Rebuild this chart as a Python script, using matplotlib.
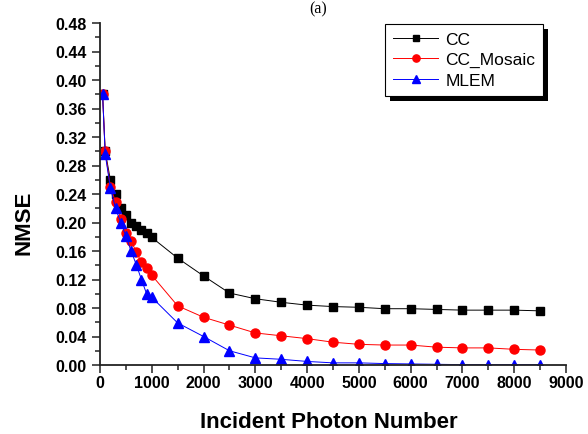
import matplotlib
matplotlib.use("Agg")
import matplotlib.pyplot as plt
from matplotlib.patches import Rectangle
from matplotlib.ticker import MultipleLocator

# incident photon numbers and NMSE for each reconstruction method
photons = [50, 100, 200, 300, 400, 500, 600, 700, 800, 900, 1000, 1500, 2000,
           2500, 3000, 3500, 4000, 4500, 5000, 5500, 6000, 6500, 7000, 7500,
           8000, 8500]
cc = [0.380, 0.300, 0.260, 0.240, 0.220, 0.210, 0.200, 0.195, 0.190, 0.185,
      0.179, 0.150, 0.125, 0.101, 0.093, 0.088, 0.084, 0.082, 0.081, 0.079,
      0.079, 0.078, 0.077, 0.077, 0.077, 0.076]
cc_mosaic = [0.380, 0.300, 0.250, 0.229, 0.205, 0.185, 0.174, 0.159, 0.144,
             0.136, 0.126, 0.083, 0.067, 0.056, 0.045, 0.041, 0.037, 0.032,
             0.029, 0.028, 0.028, 0.025, 0.024, 0.024, 0.022, 0.021]
mlem = [0.380, 0.296, 0.249, 0.220, 0.200, 0.181, 0.160, 0.141, 0.120, 0.100,
        0.095, 0.059, 0.040, 0.020, 0.010, 0.008, 0.005, 0.003, 0.003, 0.002,
        0.0015, 0.001, 0.0005, 0.0005, 0.0005, 0.0005]

plt.rcParams['font.family'] = ['Liberation Sans', 'DejaVu Sans']

fig = plt.figure(figsize=(5.88, 4.35), dpi=100)
ax = fig.add_axes([100 / 588, 69 / 435, 466 / 588, 342 / 435])

ax.plot(photons, cc, color='k', lw=0.7, marker='s', ms=5.5, label='CC')
ax.plot(photons, cc_mosaic, color='red', lw=0.7, marker='o', ms=6.5,
        label='CC_Mosaic')
ax.plot(photons, mlem, color='blue', lw=0.7, marker='^', ms=7, label='MLEM')

ax.set_xlim(0, 9000)
ax.set_ylim(0, 0.48)
ax.xaxis.set_major_locator(MultipleLocator(1000))
ax.xaxis.set_minor_locator(MultipleLocator(500))
ax.yaxis.set_major_locator(MultipleLocator(0.04))
ax.yaxis.set_minor_locator(MultipleLocator(0.02))
ax.yaxis.set_major_formatter(lambda v, p: f'{v:.2f}')

for side in ('top', 'right'):
    ax.spines[side].set_visible(False)
for side in ('left', 'bottom'):
    ax.spines[side].set_linewidth(1.3)
    ax.spines[side].set_color('#222222')

ax.tick_params(which='major', direction='out', length=5.5, width=1.1,
               color='#222222', labelsize=11.5)
ax.tick_params(which='minor', direction='out', length=3.5, width=1.1,
               color='#222222')
ax.tick_params(axis='x', pad=1.5)
ax.tick_params(axis='y', pad=4)
for lab in ax.get_xticklabels() + ax.get_yticklabels():
    lab.set_fontweight('bold')

ax.set_xlabel('Incident Photon Number', fontsize=16, fontweight='bold')
ax.set_ylabel('NMSE', fontsize=16, fontweight='bold')
ax.xaxis.set_label_coords(0.49, -0.135)
ax.yaxis.set_label_coords(-0.14, 0.42)

leg = ax.legend(loc='upper right', bbox_to_anchor=(0.951, 0.997),
                fontsize=12.5, fancybox=False, framealpha=1, edgecolor='k',
                handlelength=2.6, labelspacing=0.3, borderpad=0.45,
                handletextpad=0.4, borderaxespad=0, markerscale=0.8)
leg.get_frame().set_linewidth(0.8)

# solid black drop shadow behind the legend box
fig.canvas.draw()
bb = leg.get_window_extent().transformed(ax.transAxes.inverted())
dx = 5 / 466
dy = 5 / 342
ax.add_patch(Rectangle((bb.x0 + dx, bb.y0 - dy), bb.width, bb.height,
                       transform=ax.transAxes, facecolor='k', edgecolor='none',
                       zorder=4.9, clip_on=False))

fig.text(318 / 588, 1 - 13 / 435, '(a)', ha='center', va='baseline',
         fontsize=11.5, family='Liberation Serif')

fig.savefig('out.png', dpi=100)
